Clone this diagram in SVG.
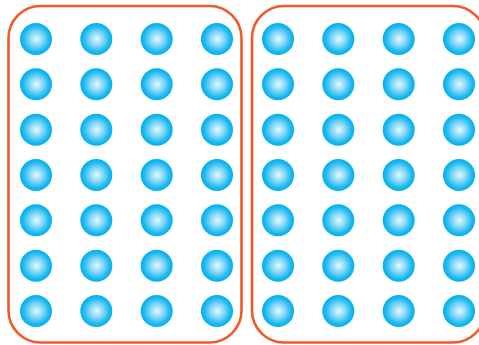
<svg xmlns="http://www.w3.org/2000/svg" xmlns:xlink="http://www.w3.org/1999/xlink" width="479" height="345" viewBox="0 0 479 345">
<style>
.frame{fill:#fff;stroke:#f05a28;stroke-width:2.6}
.dot{fill:url(#g)}
</style>
<defs>
<radialGradient id="g" cx="0.5" cy="0.5" r="0.5" fx="0.52" fy="0.5">
<stop offset="0" stop-color="#e6f8fe"/>
<stop offset="0.45" stop-color="#7fd6f6"/>
<stop offset="0.8" stop-color="#1fbaf0"/>
<stop offset="1" stop-color="#00aeef"/>
</radialGradient>
<g id="col">
<circle class="dot" cx="0" cy="39" r="16"/>
<circle class="dot" cx="0" cy="84.3" r="16"/>
<circle class="dot" cx="0" cy="129.7" r="16"/>
<circle class="dot" cx="0" cy="175" r="16"/>
<circle class="dot" cx="0" cy="220.3" r="16"/>
<circle class="dot" cx="0" cy="265.7" r="16"/>
<circle class="dot" cx="0" cy="311" r="16"/>
</g>
</defs>
<rect width="479" height="345" fill="#fff"/>
<g id="left">
<rect class="frame" x="8.5" y="6" width="233" height="336.5" rx="32" ry="32"/>
<use xlink:href="#col" x="36"/>
<use xlink:href="#col" x="96.3"/>
<use xlink:href="#col" x="156.7"/>
<use xlink:href="#col" x="217"/>
</g>
<g id="right">
<rect class="frame" x="252" y="6" width="233" height="336.5" rx="32" ry="32"/>
<use xlink:href="#col" x="278"/>
<use xlink:href="#col" x="338.3"/>
<use xlink:href="#col" x="398.7"/>
<use xlink:href="#col" x="459"/>
</g>
<g id="connectors"/>
</svg>
